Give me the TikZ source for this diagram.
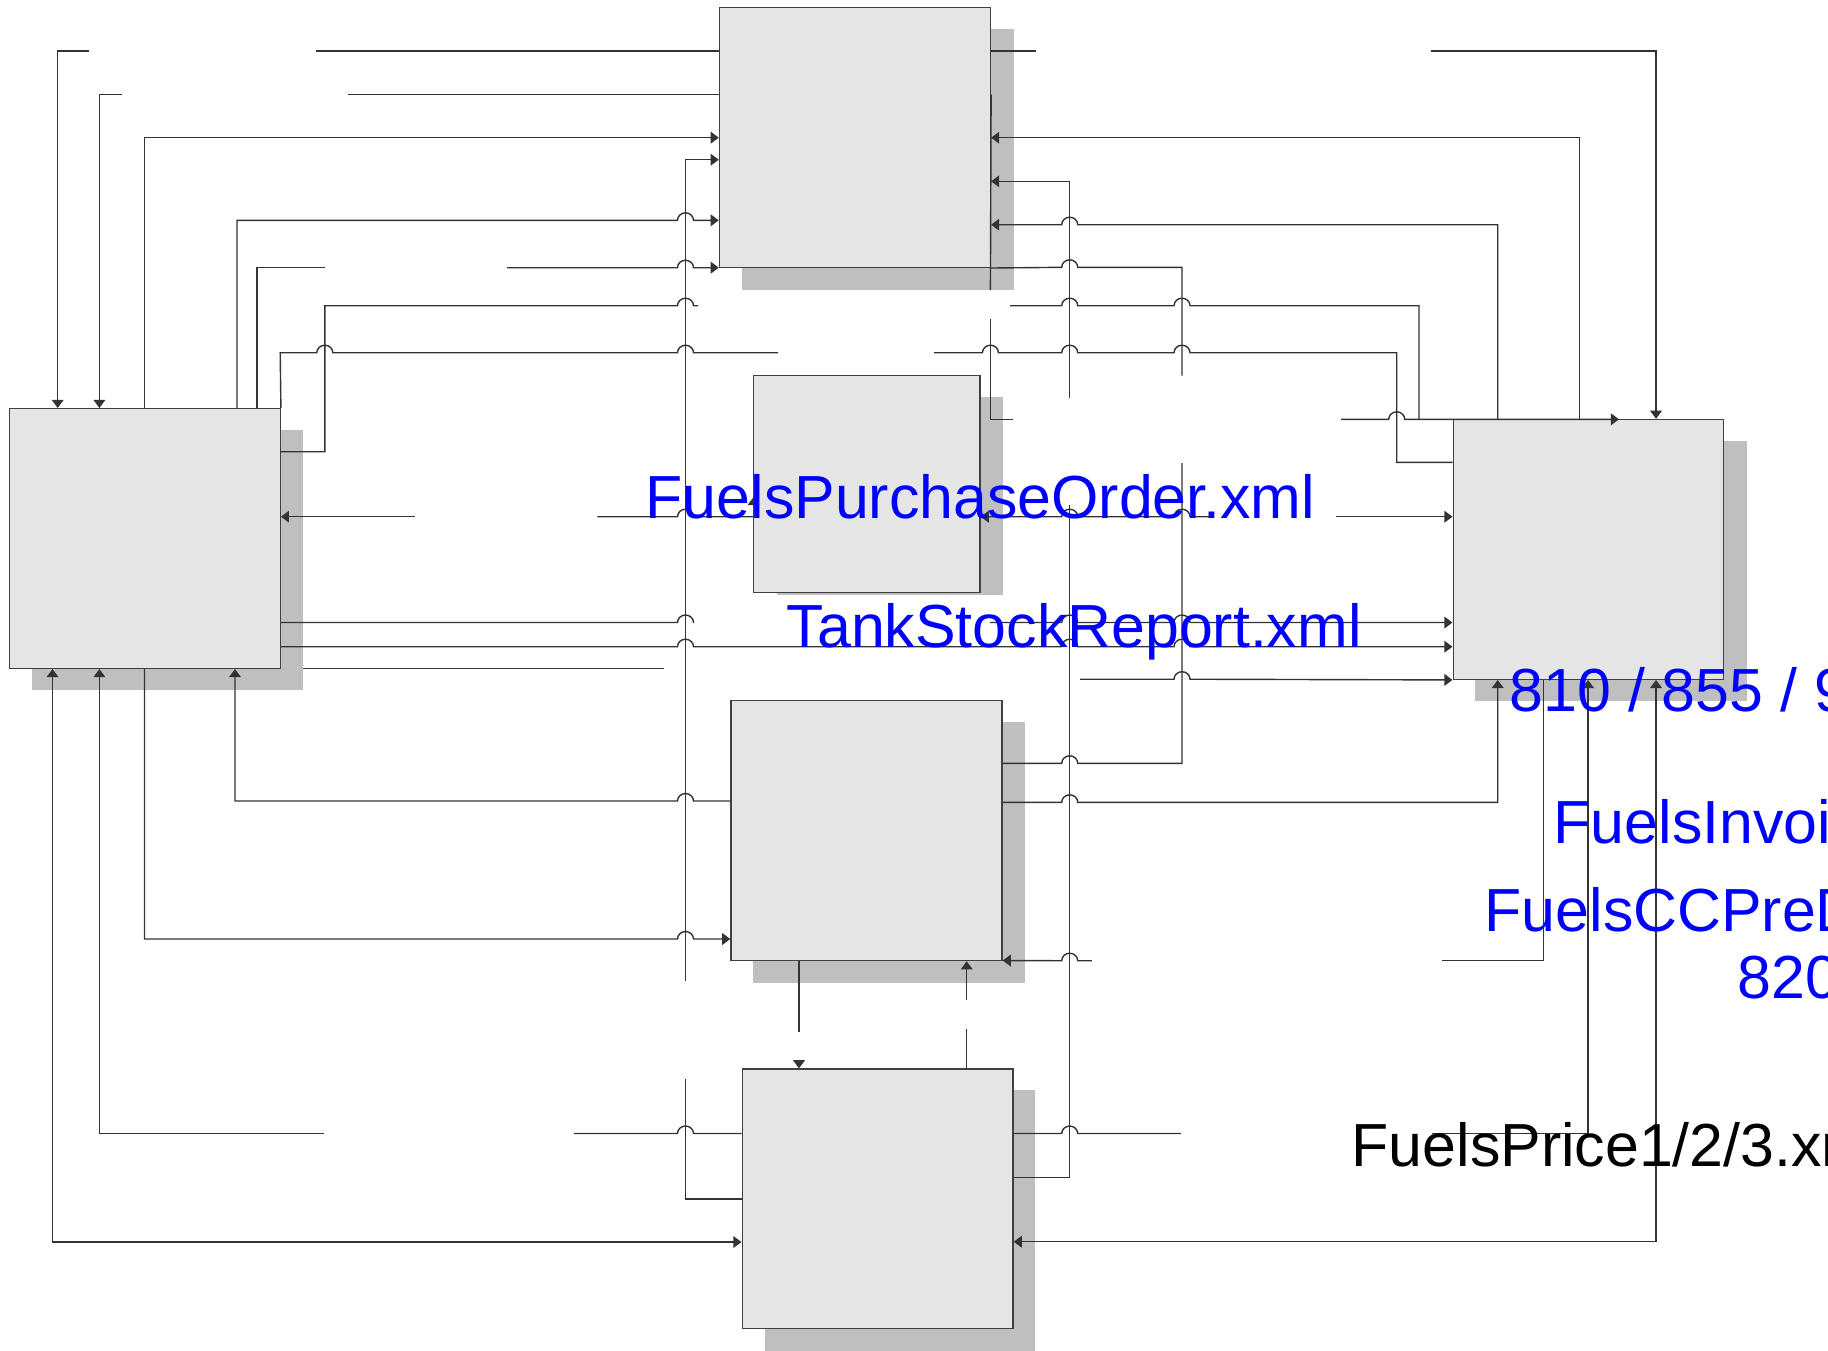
\documentclass[tikz,border=0pt]{standalone}
\usepackage{fontspec}
\usetikzlibrary{arrows.meta,fit}
\newfontfamily\arialfont{Liberation Sans}
% line hop over a crossing wire (going right / going left)
\newcommand{\hop}[2]{-- (#1-8,#2) arc[start angle=180,end angle=0,x radius=0.08cm,y radius=0.075cm]}
\newcommand{\hopl}[2]{-- (#1+8,#2) arc[start angle=0,end angle=180,x radius=0.08cm,y radius=0.075cm]}

\begin{document}
\begin{tikzpicture}[x=0.01cm,y=-0.01cm,line width=0.4pt,>={Triangle[length=2.3pt,width=3.3pt]},
  box/.style={draw=black!75,fill=black!10,inner sep=0pt},
  shadow/.style={fill=black!25},
  flow/.style={draw=black!80},
  xml/.style={anchor=base west,inner sep=0pt,font=\arialfont\fontsize{17.3}{20}\selectfont,text=blue}]
\useasboundingbox (0,0) rectangle (1828,1350);
\clip (0,0) rectangle (1828,1350);
% ================= shadows =================
\fill[shadow] (742,29) rectangle (1013.8,290);
\fill[shadow] (31.5,430) rectangle (303,690);
\fill[shadow] (776.5,396.7) rectangle (1002.7,594.5);
\fill[shadow] (752.7,722.3) rectangle (1025,982.5);
\fill[shadow] (764.6,1090) rectangle (1035.4,1352);
\fill[shadow] (1475,441) rectangle (1746.5,701);
% ================= activity boxes =================
\node[box,fit={(719.5,7.3) (990.4,267.3)}] (order) {};
\node[box,fit={(9.7,408.7) (280.2,668.3)}] (station) {};
\node[box,fit={(753.5,375.7) (980,592.3)}] (stock) {};
\node[box,fit={(731,700.7) (1002,960.5)}] (invoice) {};
\node[box,fit={(742.2,1069) (1013,1328.4)}] (price) {};
\node[box,fit={(1453.2,419.5) (1723.6,679.2)}] (supplier) {};
% ================= top left =================
\draw[flow] (order.west |- 0,51) -- (316,51);
\draw[flow,->] (89,51) -- (57.7,51) -- (57.7,0 |- station.north);
\draw[flow] (order.west |- 0,94.7) -- (348,94.7);
\draw[flow,->] (122,94.7) -- (99.4,94.7) -- (99.4,0 |- station.north);
\draw[flow,->] (144.5,0 |- station.north) -- (144.5,137.7) -- (order.west |- 0,137.7);
\draw[flow] (price.west |- 0,1199) -- (685.5,1199) -- (685.5,1079);
\draw[flow,->] (685.5,980.7) -- (685.5,159.7) -- (order.west |- 0,159.7);
\draw[flow,->] (237,0 |- station.north) -- (237,220.3) \hop{685.5}{220.3} -- (order.west |- 0,220.3);
\draw[flow] (257,0 |- station.north) -- (257,267.7) -- (324.8,267.7);
\draw[flow,->] (507,267.7) \hop{685.5}{267.7} -- (order.west |- 0,267.7);
% station to supplier, over the top
\draw[flow] (station.east |- 0,451.7) -- (324.8,451.7) -- (324.8,305.7) \hop{685.5}{305.7} -- (698,305.7);
\draw[flow] (1010,305.7) \hop{1069.7}{305.7} \hop{1182}{305.7} -- (1419,305.7) -- (1419,0 |- supplier.north);
\draw[flow] (station.north east) -- (280.2,352.7) \hop{324.8}{352.7} \hop{685.5}{352.7} -- (778,352.7);
\draw[flow] (934,352.7) \hop{990.4}{352.7} \hop{1069.7}{352.7} \hop{1182}{352.7} -- (1396.7,352.7) -- (1396.7,462.3) -- (supplier.west |- 0,462.3);
% ================= top right =================
\draw[flow] (order.east |- 0,51) -- (1036,51);
\draw[flow,->] (1431,51) -- (1656,51) -- (1656,0 |- supplier.north);
\draw[flow,->] (1579.5,0 |- supplier.north) -- (1579.5,137.7) -- (order.east |- 0,137.7);
\draw[flow] (price.east |- 0,1177.5) -- (1069.7,1177.5) -- (1069.7,505);
\draw[flow,->] (1069.7,397.7) -- (1069.7,181.3) -- (order.east |- 0,181.3);
\draw[flow,->] (1497.7,0 |- supplier.north) -- (1497.7,224.7) \hopl{1069.7}{224.7} -- (order.east |- 0,224.7);
\draw[flow] (invoice.east |- 0,763.3) \hop{1069.7}{763.3} -- (1182,763.3) -- (1182,463);
\draw[flow] (1182,375.7) -- (1182,267.3) \hopl{1069.7}{267.3} -- (order.south east);
\draw[flow] (order.east |- 0,94.7) -- (990.4,290);
\draw[flow] (990.4,319) -- (990.4,419.3) -- (1012.7,419.3);
\draw[flow,->] (1341,419.3) \hop{1396.7}{419.3} -- (1619,419.3);
% ================= station right side =================
\draw[flow,->] (414.5,516.7) -- (station.east |- 0,516.7);
\draw[flow] (597.3,516.7) \hop{685.5}{516.7} -- (stock.west |- 0,516.7);
\draw[flow,->] (753.5,508) -- (753.5,497);
\draw[flow,->] (1213,516.7) \hopl{1182}{516.7} \hopl{1069.7}{516.7} -- (stock.east |- 0,516.7);
\draw[flow,->] (1336,516.7) -- (supplier.west |- 0,516.7);
\draw[flow] (station.east |- 0,622.5) \hop{685.5}{622.5} -- (694,622.5);
\draw[flow,->] (990,622.5) \hop{1069.7}{622.5} \hop{1182}{622.5} -- (supplier.west |- 0,622.5);
\draw[flow,->] (station.east |- 0,646.7) \hop{685.5}{646.7} \hop{1069.7}{646.7} \hop{1182}{646.7} -- (supplier.west |- 0,646.7);
\draw[flow] (303,668.3) -- (664,668.3);
\draw[flow,->] (1080,679.2) \hop{1182}{679.2} -- (supplier.south west);
% ================= station bottom side =================
\draw[flow,<->] (52.5,0 |- station.south) -- (52.5,1242) -- (price.west |- 0,1242);
\draw[flow,<-] (99.4,0 |- station.south) -- (99.4,1133.5) -- (324,1133.5);
\draw[flow] (573.8,1133.5) \hop{685.5}{1133.5} -- (price.west |- 0,1133.5);
\draw[flow,->] (144.5,0 |- station.south) -- (144.5,939) \hop{685.5}{939} -- (invoice.west |- 0,939);
\draw[flow,->] (invoice.west |- 0,801) \hopl{685.5}{801} -- (235,801) -- (235,0 |- station.south);
% ================= invoice, price, supplier =================
\draw[flow,->] (invoice.east |- 0,802.3) \hop{1069.7}{802.3} -- (1497.7,802.3) -- (1497.7,0 |- supplier.south);
\draw[flow] (1543.4,0 |- supplier.south) -- (1543.4,960.7) -- (1442,960.7);
\draw[flow,->] (1091.8,960.7) \hopl{1069.7}{960.7} -- (invoice.east |- 0,960.5);
\draw[flow] (799,0 |- invoice.south) -- (799,1031.6);
\draw[flow,->] (799,1060) -- (799,0 |- price.north);
\draw[flow] (966.7,0 |- price.north) -- (966.7,1029);
\draw[flow,->] (966.7,999.6) -- (966.7,0 |- invoice.south);
\draw[flow] (price.east |- 0,1133.5) \hop{1069.7}{1133.5} -- (1181,1133.5);
\draw[flow,->] (1431.5,1133.5) -- (1588,1133.5) -- (1588,0 |- supplier.south);
\draw[flow,<->] (price.east |- 0,1241.7) -- (1656,1241.7) -- (1656,0 |- supplier.south);
% ================= message labels =================
\node[xml] (poLbl) at (645,518) {FuelsPurchaseOrder.xml};
\node[xml] (tankLbl) at (786,647.5) {TankStockReport.xml};
\node[xml] (ediLbl) at (1509,711) {810 / 855 / 9};
\node[xml] (invLbl) at (1553,843) {FuelsInvoi};
\node[xml] (ccLbl) at (1484,931.3) {FuelsCCPreD};
\node[xml] (ccNum) at (1737,998.7) {820};
\node[xml,text=black] (priceLbl) at (1351,1166.7) {FuelsPrice1/2/3.xml};
\end{tikzpicture}
\end{document}
